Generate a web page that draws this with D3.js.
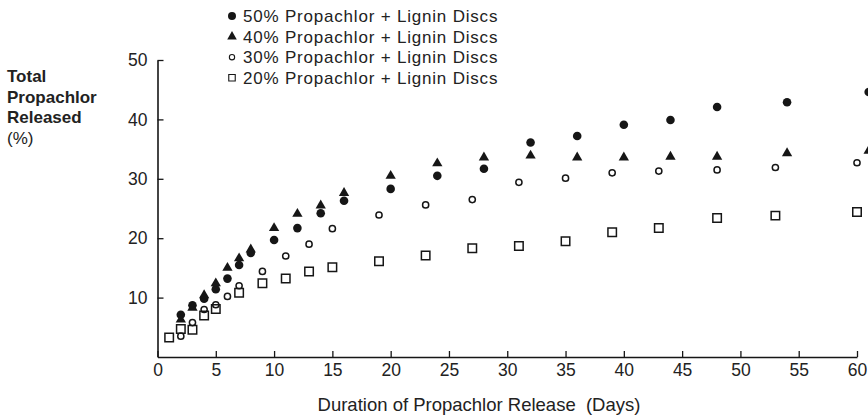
<!DOCTYPE html>
<html>
<head>
<meta charset="utf-8">
<script src="https://cdn.jsdelivr.net/npm/d3@7"></script>
<style>
  body { margin: 0; background: #fff; }
  svg { display: block; font-family: "Liberation Sans", Arial, sans-serif; }
</style>
</head>
<body>
<script>
// days sampled (the 50% and 40% discs share a schedule)
var daysHigh = [2, 3, 4, 5, 6, 7, 8, 10, 12, 14, 16, 20, 24, 28, 32, 36, 40, 44, 48, 54, 61];
var days30 = [2, 3, 4, 5, 6, 7, 9, 11, 13, 15, 19, 23, 27, 31, 35, 39, 43, 48, 53, 60];
var days20 = [1, 2, 3, 4, 5, 7, 9, 11, 13, 15, 19, 23, 27, 31, 35, 39, 43, 48, 53, 60];

var rel50 = [7.1, 8.7, 9.8, 11.4, 13.2, 15.5, 17.5, 19.7, 21.7, 24.2, 26.3, 28.3, 30.5, 31.7, 36.1, 37.2, 39.1, 39.9, 42.1, 42.9, 44.6];
var rel40 = [6.3, 8.3, 10.4, 12.4, 15.0, 16.6, 18.1, 21.7, 24.1, 25.5, 27.6, 30.5, 32.6, 33.6, 33.9, 33.6, 33.6, 33.7, 33.7, 34.3, 34.7];
var rel30 = [3.5, 5.8, 8.0, 8.8, 10.2, 12.0, 14.4, 17.0, 19.0, 21.6, 23.9, 25.6, 26.5, 29.4, 30.1, 31.0, 31.3, 31.5, 31.9, 32.7];
var rel20 = [3.3, 4.7, 4.6, 7.0, 8.1, 10.8, 12.4, 13.2, 14.4, 15.1, 16.1, 17.1, 18.3, 18.7, 19.5, 21.0, 21.7, 23.4, 23.8, 24.4];

var seriesNames = ["50% Propachlor + Lignin Discs", "40% Propachlor + Lignin Discs",
                   "30% Propachlor + Lignin Discs", "20% Propachlor + Lignin Discs"];
var xTicks = [0, 5, 10, 15, 20, 25, 30, 35, 40, 45, 50, 55, 60];
var yTicks = [10, 20, 30, 40, 50];

var width = 868, height = 415;
var ink = "#161616";

var x = d3.scaleLinear().domain([0, 60]).range([157.5, 857]);
var y = d3.scaleLinear().domain([0, 50]).range([357, 60]);

var svg = d3.select("body").append("svg")
    .attr("width", width)
    .attr("height", height);

// marker styles: filled circle, filled triangle, open circle, open square
var marks = [
  {type: d3.symbolCircle, size: 58, fill: ink, stroke: "none"},
  {type: d3.symbolTriangle, size: 46, fill: ink, stroke: "none"},
  {type: d3.symbolCircle, size: 30, fill: "none", stroke: ink},
  {type: d3.symbolSquare, size: 72, fill: "none", stroke: ink}
];

var series = [
  {days: daysHigh, vals: rel50},
  {days: daysHigh, vals: rel40},
  {days: days30, vals: rel30},
  {days: days20, vals: rel20}
];

// axes
var xAxis = d3.axisBottom(x).tickValues(xTicks).tickSizeInner(-6).tickSizeOuter(0).tickPadding(7);
var yAxis = d3.axisLeft(y).tickValues(yTicks).tickSizeInner(-6).tickSizeOuter(0).tickPadding(10);

var gx = svg.append("g")
    .attr("transform", "translate(0," + y(0) + ")")
    .call(xAxis);
var gy = svg.append("g")
    .attr("transform", "translate(" + x(0) + ",0)")
    .call(yAxis);

[gx, gy].forEach(function(g) {
  g.select(".domain").attr("stroke", ink).attr("stroke-width", 1.6);
  g.selectAll(".tick line").attr("stroke", ink).attr("stroke-width", 1.3);
  g.selectAll(".tick text").attr("fill", "#222").style("font-size", "17.5px");
});

// points
series.forEach(function(s, i) {
  var m = marks[i];
  var sym = d3.symbol().type(m.type).size(m.size);
  svg.append("g")
    .selectAll("path")
    .data(s.vals)
    .enter()
    .append("path")
    .attr("d", sym)
    .attr("transform", function(d, j) { return "translate(" + x(s.days[j]) + "," + y(d) + ")"; })
    .attr("fill", m.fill)
    .attr("stroke", m.stroke)
    .attr("stroke-width", 1.5);
});

// legend
var legend = svg.append("g").attr("transform", "translate(232,16)");
var legendMarks = [
  {type: d3.symbolCircle, size: 50},
  {type: d3.symbolTriangle, size: 40},
  {type: d3.symbolCircle, size: 22},
  {type: d3.symbolSquare, size: 42}
];
seriesNames.forEach(function(name, i) {
  var row = legend.append("g").attr("transform", "translate(0," + (i * 20.6) + ")");
  row.append("path")
    .attr("d", d3.symbol().type(legendMarks[i].type).size(legendMarks[i].size))
    .attr("fill", marks[i].fill)
    .attr("stroke", marks[i].stroke)
    .attr("stroke-width", 1.1);
  row.append("text")
    .attr("x", 11)
    .attr("y", 6)
    .attr("fill", "#222")
    .style("font-size", "17px")
    .style("letter-spacing", "0.8px")
    .text(name);
});

// y axis title
var yTitle = ["Total", "Propachlor", "Released", "(%)"];
svg.append("g")
  .selectAll("text")
  .data(yTitle)
  .enter()
  .append("text")
  .attr("x", 7)
  .attr("y", function(d, i) { return 82 + i * 20.7; })
  .attr("fill", "#222")
  .style("font-size", "17px")
  .style("font-weight", function(d, i) { return i < 3 ? "bold" : "normal"; })
  .text(function(d) { return d; });

// x axis title
svg.append("text")
  .attr("x", 479)
  .attr("y", 411)
  .attr("text-anchor", "middle")
  .attr("fill", "#222")
  .style("font-size", "18.5px")
  .text("Duration of Propachlor Release  (Days)")
  .style("white-space", "pre");
</script>
</body>
</html>
